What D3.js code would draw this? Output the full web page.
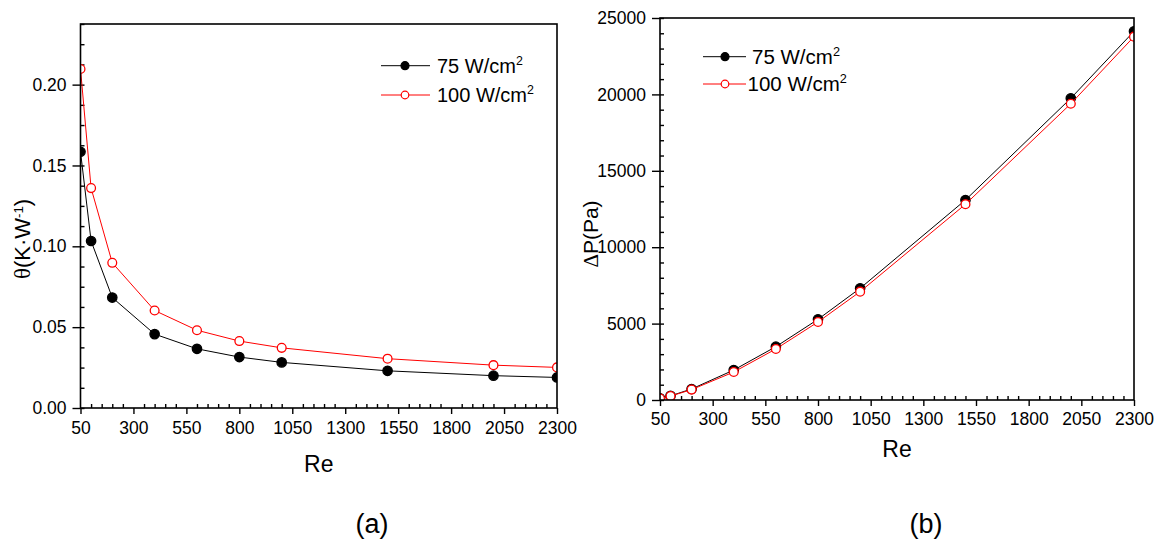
<!DOCTYPE html>
<html><head><meta charset="utf-8">
<script src="https://cdn.jsdelivr.net/npm/d3@7"></script>
<style>body{margin:0;background:#fff} text{font-family:"Liberation Sans",Arial,sans-serif;fill:#000}</style>
</head><body><svg id="c" width="1157" height="544"></svg>
<script>
const re = [50,100,200,400,600,800,1000,1500,2000,2300];
const theta75 = [0.1585,0.1033,0.0683,0.0457,0.0366,0.0315,0.0282,0.0230,0.0200,0.0189];
const theta100 = [0.2097,0.1360,0.0898,0.0603,0.0481,0.0414,0.0372,0.0305,0.0265,0.0251];
const dp75 = [110,270,720,1960,3490,5280,7310,13090,19745,24130];
const dp100 = [100,255,680,1830,3340,5105,7090,12810,19390,23780];
const xTicks = [50,300,550,800,1050,1300,1550,1800,2050,2300];
const thetaTicks = [0,0.05,0.10,0.15,0.20];
const dpTicks = [0,5000,10000,15000,20000,25000];
const seriesLabels = ["75 W/cm","100 W/cm"];
const seriesColors = ["#000000","#ff0000"];

const svg = d3.select("#c");
const minorX = d3.range(50, 2301, 50).filter(v => !xTicks.includes(v));

function panel(o, id) {
  const g = svg.append("g");
  const x = d3.scaleLinear().domain([50,2300]).range([o.x0,o.x1]);
  const y = d3.scaleLinear().domain(o.yDom).range([o.y1,o.y0]);
  svg.append("clipPath").attr("id", id).append("rect")
    .attr("x", o.x0).attr("y", o.y0).attr("width", o.x1-o.x0).attr("height", o.y1-o.y0);

  g.append("g").attr("transform",`translate(0,${o.y1})`)
    .call(d3.axisBottom(x).tickValues(minorX).tickSize(-4).tickSizeOuter(0).tickFormat(""))
    .call(s=>s.select(".domain").remove());
  g.append("g").attr("transform",`translate(0,${o.y1})`)
    .call(d3.axisBottom(x).tickValues(xTicks).tickSize(6).tickSizeOuter(0).tickPadding(o.xPad).tickFormat(d3.format("d")))
    .call(s=>s.select(".domain").remove())
    .attr("font-size",17.5).attr("font-family",null);
  g.append("g").attr("transform",`translate(${o.x0},0)`)
    .call(d3.axisLeft(y).tickValues(o.yMinor).tickSize(-4).tickSizeOuter(0).tickFormat(""))
    .call(s=>s.select(".domain").remove());
  g.append("g").attr("transform",`translate(${o.x0},0)`)
    .call(d3.axisLeft(y).tickValues(o.yTicks).tickSize(8).tickSizeOuter(0).tickPadding(o.yPad).tickFormat(o.yFmt))
    .call(s=>s.select(".domain").remove())
    .attr("font-size",17.5).attr("font-family",null);
  g.selectAll(".tick line").attr("stroke-width",1.4);

  const data = [o.s1, o.s2];
  const line = d3.line().x((d,i)=>x(re[i])).y(d=>y(d));
  const dg = g.append("g").attr("clip-path",`url(#${id})`);
  data.forEach((vals, k) => {
    dg.append("path").attr("d", line(vals)).attr("fill","none")
      .attr("stroke", seriesColors[k]).attr("stroke-width",1);
    dg.selectAll(null).data(vals).join("circle")
      .attr("cx",(d,i)=>x(re[i])).attr("cy",d=>y(d)).attr("r", k===0?4.7:4.4)
      .attr("fill", k===0?"#000":"#fff").attr("stroke", seriesColors[k]).attr("stroke-width",1.3);
  });

  g.append("rect").attr("x",o.x0).attr("y",o.y0).attr("width",o.x1-o.x0).attr("height",o.y1-o.y0)
    .attr("fill","none").attr("stroke","#000").attr("stroke-width",1.6);

  const L = o.leg;
  seriesLabels.forEach((lab, k) => {
    const yy = L.ys[k];
    g.append("line").attr("x1",L.x1).attr("x2",L.x2).attr("y1",yy).attr("y2",yy)
      .attr("stroke",seriesColors[k]).attr("stroke-width",1);
    g.append("circle").attr("cx",L.mx).attr("cy",yy).attr("r",k===0?4:3.8)
      .attr("fill",k===0?"#000":"#fff").attr("stroke",seriesColors[k]).attr("stroke-width",1.2);
    const t = g.append("text").attr("x",L.tx[k]).attr("y",yy+L.dy).attr("font-size",L.fs).text(lab);
    t.append("tspan").attr("dy","-0.6em").attr("font-size","0.62em").text("2");
  });

  g.append("text").attr("x",(o.x0+o.x1)/2).attr("y",o.xtY).attr("text-anchor","middle")
    .attr("font-size",23).text("Re");
  g.append("text").attr("x",o.plX).attr("y",533).attr("text-anchor","middle")
    .attr("font-size",27).text(o.pl);
  return g;
}

const gA = panel({x0:80.5,x1:557,y0:24,y1:408,yDom:[0,0.2375],yTicks:thetaTicks,
  yMinor:d3.range(0,0.2376,0.0125),yFmt:d3.format(".2f"),xPad:8,yPad:6,
  s1:theta75,s2:theta100,xtY:471.5,plX:372,pl:"(a)",
  leg:{x1:381,x2:430,mx:405,tx:[437,437],ys:[65.7,95],dy:6.8,fs:20}}, "clipA");

const gB = panel({x0:660,x1:1134,y0:18,y1:400,yDom:[0,25000],yTicks:dpTicks,
  yMinor:d3.range(0,25001,1000),yFmt:d3.format("d"),xPad:7,yPad:6,
  s1:dp75,s2:dp100,xtY:456.5,plX:926,pl:"(b)",
  leg:{x1:703,x2:746,mx:725,tx:[752,747.5],ys:[56.7,84],dy:6.9,fs:20.5}}, "clipB");

const ytA = gA.append("text").attr("transform","translate(30,239) rotate(-90)")
  .attr("text-anchor","middle").attr("font-size",22);
ytA.append("tspan").attr("font-family","Liberation Serif, serif").attr("font-size",23).text("θ");
ytA.append("tspan").text("(K·W");
ytA.append("tspan").attr("dy","-0.5em").attr("font-size","0.6em").text("-1");
ytA.append("tspan").attr("dy","0.3em").text(")");

const ytB = gB.append("text").attr("transform","translate(598,234) rotate(-90)")
  .attr("text-anchor","middle").attr("font-size",21);
ytB.append("tspan").attr("font-family","Liberation Serif, serif").text("Δ");
ytB.append("tspan").text("P(Pa)");
</script></body></html>
